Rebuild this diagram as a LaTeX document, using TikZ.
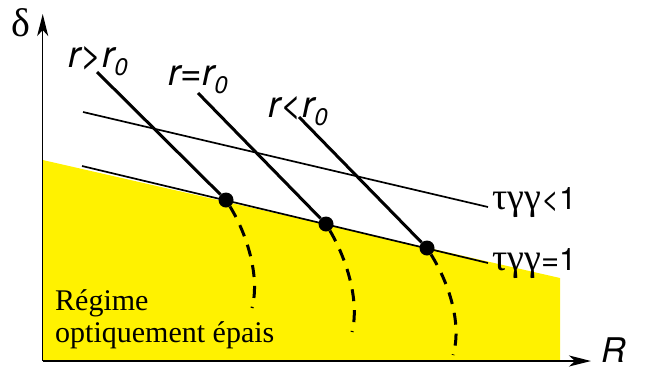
\documentclass[tikz,border=0pt]{standalone}
\usepackage{fontspec}
\setmainfont{Liberation Serif}
\newfontfamily\hv{TeX Gyre Heros}
\newfontfamily\grk{Liberation Serif}
\usetikzlibrary{arrows.meta}
\newcommand{\rsub}{\raisebox{-8pt}{\fontsize{24}{24}\selectfont 0}}

\begin{document}
\begin{tikzpicture}[x=1pt,y=-1pt,
  axis/.style = {line width=1.5pt,-{Stealth[length=22pt,width=11pt,inset=6pt]}},
  rlbl/.style = {anchor=base west,inner sep=0pt,font=\hv\itshape\fontsize{37}{40}\selectfont},
  tlbl/.style = {anchor=base west,inner sep=0pt,font=\fontsize{31}{34}\selectfont},
  dot/.style = {circle,fill=black,minimum size=15pt,inner sep=0pt},
  rline/.style = {line width=3pt},
  tline/.style = {line width=1.7pt},
  dsh/.style = {line width=3pt,dash pattern=on 12pt off 9pt}]
\useasboundingbox (0,0) rectangle (645,368);
% optically thick region
\fill[yellow] (42.7,160) -- (560,278) -- (560,361) -- (42.7,361) -- cycle;
% axes
\coordinate (o) at (42.7,361);
\coordinate (ytop) at (42.7,14);
\coordinate (xend) at (591,361);
\draw[axis] (o) -- (ytop);
\draw[axis] (o) -- (xend);
\node (dlt) [anchor=base west,inner sep=0pt,font=\grk\fontsize{40}{42}\selectfont] at (11,36) {δ};
\node (rr) [anchor=base west,inner sep=0pt,font=\hv\itshape\fontsize{34}{36}\selectfont] at (601,362) {R};
% tau lines
\coordinate (a1) at (83,112);
\coordinate (a2) at (82,166);
\node (tlt) [tlbl] at (492,209) {{\grk\fontsize{38}{40}\selectfont τγγ}{\hv<1}};
\node (teq) [tlbl] at (492,270) {{\grk\fontsize{38}{40}\selectfont τγγ}{\hv=1}};
\draw[tline] (a1) -- (488,207) coordinate (b1);
\draw[tline] (a2) -- (488,263) coordinate (b2);
% r labels and lines
\node (rg) [rlbl] at (68,67) {r>r\rsub};
\node (re) [rlbl] at (168,85) {r=r\rsub};
\node (rl) [rlbl] at (268,117) {r<r\rsub};
\coordinate (s1) at (97,72);
\coordinate (s2) at (198,93);
\coordinate (s3) at (299,117);
\node (d1) [dot] at (226,200) {};
\node (d2) [dot] at (326,224) {};
\node (d3) [dot] at (427,248) {};
\foreach \from/\to in {s1/d1,s2/d2,s3/d3}
\draw[rline] (\from) -- (\to);
% dashed tracks
\coordinate (e1) at (252,308);
\coordinate (e2) at (352,332);
\coordinate (e3) at (453,355);
\draw[dsh] (d1) .. controls (248,236) and (260,278) .. (e1);
\draw[dsh] (d2) .. controls (346,258) and (360,300) .. (e2);
\draw[dsh] (d3) .. controls (450,285) and (462,325) .. (e3);
% region label
\node (reg) [anchor=base west,inner sep=0pt,align=left,font=\fontsize{30}{32}\selectfont] at (55,342) {Régime\\optiquement épais};
\end{tikzpicture}
\end{document}
